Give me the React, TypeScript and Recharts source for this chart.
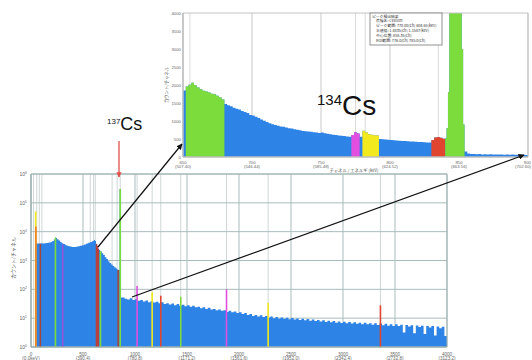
import React from 'react';
import {
  ComposedChart,
  Area,
  XAxis,
  YAxis,
  CartesianGrid,
  ReferenceLine,
  ReferenceArea,
} from 'recharts';

// ---------- main spectrum (channel, counts/channel) ----------
const mainSpectrum: [number, number][] = [
  [0, 1], [44, 3800], [55, 3900], [70, 3850], [85, 3900], [100, 3950], [115, 3900],
  [130, 4000], [145, 4050], [160, 4150], [175, 4250], [190, 4400], [205, 4700],
  [220, 5300], [232, 6300], [240, 6000], [250, 5500], [265, 4900], [280, 4400],
  [295, 4000], [310, 3700], [330, 3400], [350, 3200], [370, 3050], [390, 2950],
  [410, 2950], [430, 3000], [450, 3100], [470, 3250], [490, 3400], [510, 3600],
  [530, 3850], [550, 4100], [570, 4400], [590, 4750], [605, 5100], [615, 4700],
  [625, 3800], [635, 3200], [645, 2600], [655, 2300], [665, 2100], [680, 1800],
  [695, 1550], [710, 1300], [725, 1120], [740, 950], [755, 820], [770, 720],
  [785, 640], [800, 580], [815, 530], [830, 480], [845, 470], [852, 300000],
  [866, 52], [875, 52], [900, 47], [925, 44], [950, 49], [975, 43], [1000, 45],
  [1025, 40], [1050, 43], [1075, 38], [1100, 41], [1125, 36], [1150, 39], [1175, 35],
  [1200, 37], [1225, 33], [1250, 36], [1275, 31], [1300, 33], [1325, 30], [1350, 32],
  [1375, 28], [1400, 31], [1425, 27], [1450, 29], [1475, 26], [1500, 28], [1525, 25],
  [1550, 27], [1575, 24], [1600, 25], [1625, 22], [1650, 24], [1675, 21], [1700, 23],
  [1725, 20], [1750, 21], [1775, 19], [1800, 20], [1825, 18], [1850, 19], [1875, 16.5],
  [1900, 18], [1925, 16], [1950, 17], [1975, 15], [2000, 16], [2025, 14], [2050, 15],
  [2075, 13], [2100, 14], [2125, 12], [2150, 13], [2175, 11.5], [2200, 12.5],
  [2225, 11], [2250, 12], [2275, 10.5], [2300, 11.5], [2325, 10], [2350, 11],
  [2375, 9.8], [2400, 10.6], [2425, 9.5], [2450, 10.4], [2475, 9.2], [2500, 10.2],
  [2525, 9], [2550, 9.8], [2575, 8.7], [2600, 9.6], [2625, 8.5], [2650, 9.3],
  [2675, 8.2], [2700, 9], [2725, 7.9], [2750, 8.7], [2775, 7.7], [2800, 8.4],
  [2825, 7.4], [2850, 8.2], [2875, 7.2], [2900, 7.9], [2925, 7], [2950, 7.7],
  [2975, 6.8], [3000, 7.5], [3025, 6.7], [3050, 7.3], [3075, 6.5], [3100, 7.2],
  [3125, 6.4], [3150, 7], [3175, 6.2], [3200, 6.9], [3225, 6.1], [3250, 6.7],
  [3275, 5.9], [3300, 6.6], [3325, 5.8], [3350, 6.5], [3375, 5.7], [3400, 6.4],
  [3425, 5.5], [3450, 6.2], [3475, 5.4], [3500, 6.1], [3525, 5.3], [3550, 5.9],
  [3575, 3.2], [3600, 5.8], [3625, 5.1], [3650, 5.7], [3675, 3], [3700, 5.6],
  [3725, 4.9], [3750, 5.5], [3775, 2.8], [3800, 5.4], [3825, 4.7], [3850, 5.3],
  [3875, 2.5], [3900, 5.1], [3925, 4.5], [3950, 5], [3975, 2.4], [4000, 5],
];

const mainTicks = [0, 500, 1000, 1500, 2000, 2500, 3000, 3500, 4000];
const mainTickEnergy = ['(0.0keV)', '(390.4)', '(780.8)', '(1171.2)', '(1561.6)', '(1952.0)', '(2342.4)', '(2732.8)', '(3123.2)'];
const logTicks = [1, 10, 100, 1000, 10000, 100000, 1000000];

// detected peaks in the main spectrum
const peakChannels = [45, 47, 90, 235, 305, 630, 638, 646, 668, 838, 858, 1020, 1165, 1248, 1440, 1880, 2280, 3360];
const peakHeights = [50000, 15000, 3800, 6200, 3600, 3700, 3100, 2500, 2100, 470, 300000, 130, 80, 60, 55, 100, 34, 28];
const peakKinds = ['Bi', 'Ac2', 'Ra', 'Cs', 'Ac', 'Pb2', 'Pb2', 'Pb2', 'Cs', 'Ra', 'Cs', 'Tl', 'Bi', 'Pb', 'Cs', 'Tl', 'Bi', 'Pb'];
const mainMarkerChannels = [25, 55, 80, 105, 570, 602, 618, 780, 828, 858, 1020, 1165, 1248, 1440, 1880, 2280, 3360];

// ---------- inset (linear) ----------
const insetSpectrum: [number, number][] = [
  [650, 1850], [652, 1960], [654, 2010], [656, 2060], [658, 1990], [660, 1930], [662, 1880],
  [664, 1840], [666, 1820], [668, 1790], [670, 1760], [672, 1740], [674, 1700], [676, 1650],
  [678, 1600], [680, 1470], [682, 1440], [684, 1410], [686, 1370], [688, 1340], [690, 1320],
  [692, 1280], [694, 1250], [696, 1220], [698, 1170], [700, 1150], [702, 1120], [704, 1080],
  [706, 1040], [708, 1010], [710, 970], [712, 940], [714, 910], [716, 890], [718, 870],
  [720, 850], [722, 840], [724, 820], [726, 800], [728, 790], [730, 770], [732, 760],
  [734, 745], [736, 725], [738, 715], [740, 705], [742, 700], [744, 690], [746, 680],
  [748, 670], [750, 680], [752, 660], [754, 645], [756, 630], [758, 620], [760, 612],
  [762, 600], [764, 592], [766, 582], [768, 572], [770, 565], [772, 610], [774, 690],
  [776, 650], [778, 560], [780, 730], [782, 680], [784, 630], [786, 615], [788, 605],
  [790, 595], [792, 500], [794, 495], [796, 485], [798, 478], [800, 472], [802, 465],
  [804, 458], [806, 452], [808, 446], [810, 442], [812, 436], [814, 432], [816, 428],
  [818, 424], [820, 418], [822, 414], [824, 410], [826, 405], [828, 400], [830, 470],
  [832, 540], [834, 555], [836, 535], [838, 505], [840, 520], [841, 800], [842, 1800],
  [843, 4600], [844, 4600], [845, 4600], [846, 4600], [847, 4600], [848, 4600],
  [849, 4600], [850, 4600], [851, 4600], [852, 3000], [853, 900], [854, 150], [856, 95],
  [858, 82], [860, 86], [862, 76], [864, 80], [866, 72], [868, 76], [870, 70], [872, 73],
  [874, 68], [876, 71], [878, 66], [880, 70], [882, 64], [884, 67], [886, 62], [888, 66],
  [890, 60], [892, 63], [894, 60], [896, 62], [898, 58], [900, 60],
];
const insetTicks = [650, 700, 750, 800, 850, 900];
const insetTickEnergy = ['(507.40)', '(546.44)', '(585.48)', '(624.52)', '(663.56)', '(702.60)'];
const insetYTicks = [0, 500, 1000, 1500, 2000, 2500, 3000, 3500, 4000];
const roiStarts = [652, 772, 780, 830, 840];
const roiEnds = [680, 778, 792, 840, 854];
const roiKinds = ['Cs', 'Tl', 'Bi', 'Pb', 'Cs'];
const insetMarkerChannels = [655, 775, 782, 835, 845];

const resultLines = [
  'ピーク検出結果',
  '核種名: Cesium',
  'ピーク範囲: 770.00(ch) 604.65(keV)',
  '半値幅: 1.4835(ch) 1.1587(keV)',
  '中心位置: 858.35(ch)',
  'ROI範囲: 776.0(ch) 785.0(ch)',
];

// ---------- styles ----------
const BLUE = '#2e84e6';
const KIND_COLOR: Record<string, string> = {
  Cs: '#7bdc3c',
  Tl: '#e24fe0',
  Bi: '#f2ea1e',
  Pb: '#e0452f',
  Pb2: '#b8413c',
  Ra: '#a4473a',
  Ac: '#9456d6',
  Ac2: '#f07a22',
};
const NUM_FONT = '"Liberation Sans", Arial, sans-serif';
const JP_FONT = '"Noto Sans CJK JP", "Noto Sans", sans-serif';

const mainData = mainSpectrum.map(([ch, v]) => ({ ch, v }));
const insetData = insetSpectrum.map(([ch, v]) => {
  const row: Record<string, number | null> = { ch, v };
  roiStarts.forEach((s, j) => {
    row['r' + j] = ch >= s && ch <= roiEnds[j] ? v : null;
  });
  return row;
});

const MainXTick = (props: any) => {
  const { x, y, payload } = props;
  const i = mainTicks.indexOf(payload.value);
  return (
    <g fontFamily={NUM_FONT} fill="#666" fontSize={4.6}>
      <text x={x} y={y + 6.5} textAnchor="middle">{payload.value}</text>
      <text x={x} y={y + 11} textAnchor="middle">{mainTickEnergy[i]}</text>
    </g>
  );
};

const MainYTick = (props: any) => {
  const { x, y, payload } = props;
  const exp = Math.round(Math.log10(payload.value));
  return (
    <text x={x} y={y + 2} textAnchor="end" fontSize={5} fill="#666" fontFamily={NUM_FONT}>
      10<tspan dy={-2} fontSize={3.4}>{exp}</tspan>
    </text>
  );
};

const InsetXTick = (props: any) => {
  const { x, y, payload } = props;
  const i = insetTicks.indexOf(payload.value);
  const last = i === insetTicks.length - 1;
  const anchor = last ? 'end' : 'middle';
  const tx = last ? x + 3 : x;
  return (
    <g fontFamily={NUM_FONT} fill="#666" fontSize={4.3}>
      <text x={tx} y={y + 5} textAnchor={anchor}>{payload.value}</text>
      <text x={tx} y={y + 9} textAnchor={anchor}>{insetTickEnergy[i]}</text>
    </g>
  );
};

const InsetYTick = (props: any) => {
  const { x, y, payload } = props;
  return (
    <text x={x} y={y + 1.5} textAnchor="end" fontSize={4.3} fill="#666" fontFamily={NUM_FONT}>
      {payload.value}
    </text>
  );
};

export default function App() {
  return (
    <div style={{ position: 'absolute', left: 0, top: 0, width: 532, height: 360, background: '#fff', overflow: 'hidden' }}>
      {/* main log-scale spectrum */}
      <div style={{ position: 'absolute', left: 0, top: 0 }}>
        <ComposedChart width={532} height={360} data={mainData} margin={{ top: 174, right: 85, bottom: 0, left: 0 }}>
          <CartesianGrid stroke="#cfd6d6" verticalValues={mainMarkerChannels} horizontal={false} />
          <CartesianGrid stroke="#a9bcbc" verticalValues={mainTicks} horizontalValues={logTicks} />
          <XAxis
            type="number"
            dataKey="ch"
            domain={[0, 4000]}
            ticks={mainTicks}
            tick={<MainXTick />}
            tickLine={false}
            tickSize={2}
            tickMargin={0}
            axisLine={{ stroke: '#9fb3b3' }}
            height={13}
            interval={0}
          />
          <YAxis
            scale="log"
            domain={[1, 1000000]}
            ticks={logTicks}
            allowDataOverflow
            tick={<MainYTick />}
            tickLine={false}
            tickSize={3}
            tickMargin={1}
            axisLine={{ stroke: '#9fb3b3' }}
            width={31}
            interval={0}
          />
          <Area
            dataKey="v"
            type="stepAfter"
            baseValue={1}
            stroke="none"
            fill={BLUE}
            fillOpacity={1}
            dot={false}
            activeDot={false}
            isAnimationActive={false}
          />
          {peakChannels.map((ch, i) => (
            <ReferenceLine
              key={'pk' + i}
              segment={[{ x: ch, y: 1 }, { x: ch, y: peakHeights[i] }]}
              stroke={KIND_COLOR[peakKinds[i]]}
              strokeWidth={1.6}
            />
          ))}
          <ReferenceArea x1={0} x2={4000} y1={1} y2={1000000} fill="none" stroke="#9fb3b3" />
        </ComposedChart>
      </div>

      {/* inset linear zoom on 134Cs region */}
      <div style={{ position: 'absolute', left: 160, top: 8 }}>
        <ComposedChart width={372} height={168} data={insetData} margin={{ top: 5, right: 4, bottom: 0, left: 0 }}>
          <CartesianGrid stroke="#dadada" verticalValues={insetMarkerChannels} horizontal={false} />
          <CartesianGrid stroke="#c9c9c9" verticalValues={insetTicks} horizontal={false} />
          <XAxis
            type="number"
            dataKey="ch"
            domain={[650, 900]}
            ticks={insetTicks}
            tick={<InsetXTick />}
            tickLine={false}
            tickSize={2}
            tickMargin={0}
            axisLine={{ stroke: '#bbb' }}
            height={19}
            interval={0}
            allowDataOverflow
          />
          <YAxis
            domain={[0, 4000]}
            ticks={insetYTicks}
            allowDataOverflow
            tick={<InsetYTick />}
            tickLine={false}
            tickSize={2}
            tickMargin={0}
            axisLine={{ stroke: '#bbb' }}
            width={23}
            interval={0}
          />
          <Area
            dataKey="v"
            type="stepAfter"
            stroke="none"
            fill={BLUE}
            fillOpacity={1}
            dot={false}
            activeDot={false}
            isAnimationActive={false}
          />
          {roiStarts.map((s, j) => (
            <Area
              key={'roi' + j}
              dataKey={'r' + j}
              type="stepAfter"
              stroke="none"
              fill={KIND_COLOR[roiKinds[j]]}
              fillOpacity={1}
              dot={false}
              activeDot={false}
              connectNulls={false}
              isAnimationActive={false}
            />
          ))}
          <ReferenceArea x1={650} x2={900} y1={0} y2={4000} fill="none" stroke="#c4c4c4" />
        </ComposedChart>
      </div>

      {/* annotations */}
      <svg width={532} height={360} style={{ position: 'absolute', left: 0, top: 0, pointerEvents: 'none' }}>
        <defs>
          <marker id="ahBlack" viewBox="0 0 10 10" refX="9" refY="5" markerWidth="5" markerHeight="5" orient="auto">
            <path d="M0,0 L10,5 L0,10 z" fill="#111" />
          </marker>
          <marker id="ahRed" viewBox="0 0 10 10" refX="9" refY="5" markerWidth="4" markerHeight="4" orient="auto">
            <path d="M0,0 L10,5 L0,10 z" fill="#e0504c" />
          </marker>
        </defs>
        <line x1={98} y1={247} x2={182} y2={144} stroke="#111" strokeWidth={1.2} markerEnd="url(#ahBlack)" />
        <line x1={132} y1={297} x2={524} y2={155} stroke="#111" strokeWidth={1.2} markerEnd="url(#ahBlack)" />
        <line x1={119} y1={141} x2={119} y2={177} stroke="#e0504c" strokeWidth={1.3} markerEnd="url(#ahRed)" />

        <text x={107} y={130} fontFamily={NUM_FONT} fill="#111">
          <tspan fontSize={8} dy={-6}>137</tspan>
          <tspan fontSize={18} dy={6}>Cs</tspan>
        </text>
        <text x={317} y={115} fontFamily={NUM_FONT} fill="#111">
          <tspan fontSize={15} dy={-10}>134</tspan>
          <tspan fontSize={28} dy={10}>Cs</tspan>
        </text>

        {/* inset peak result box */}
        <rect x={370} y={13} width={72} height={32} fill="#fff" stroke="#777" strokeWidth={0.8} />
        {resultLines.map((t, i) => (
          <text key={'rl' + i} x={i === 0 ? 372 : 376} y={17.5 + i * 4.9} fontSize={3.8} fill="#333" fontFamily={JP_FONT}>
            {t}
          </text>
        ))}

        {/* axis titles */}
        <text x={354} y={172} fontSize={4.3} fill="#555" textAnchor="middle" fontFamily={JP_FONT}>
          チャネル / エネルギ (keV)
        </text>
        <text x={0} y={0} fontSize={4.3} fill="#555" textAnchor="middle" fontFamily={JP_FONT} transform="translate(168,85) rotate(-90)">
          カウント/チャネル
        </text>
        <text x={0} y={0} fontSize={5} fill="#555" textAnchor="middle" fontFamily={JP_FONT} transform="translate(15,258) rotate(-90)">
          カウント/チャネル
        </text>
      </svg>
    </div>
  );
}
